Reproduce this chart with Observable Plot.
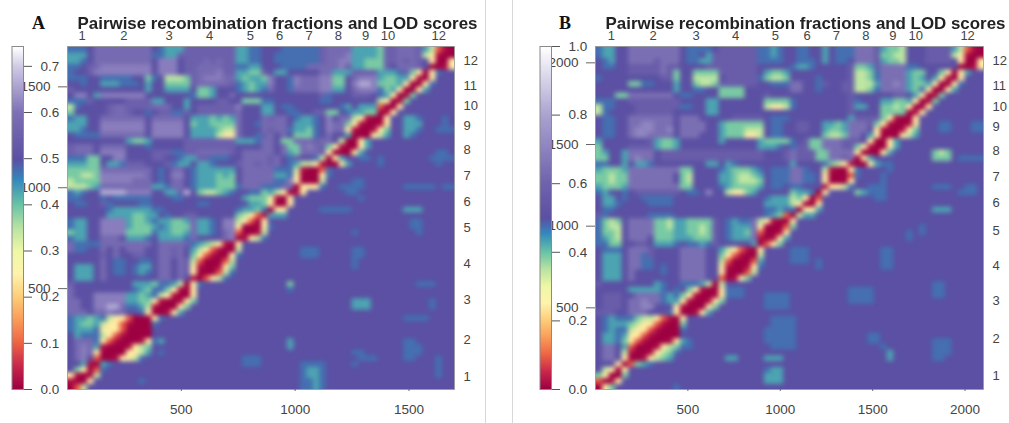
<!DOCTYPE html>
<html><head><meta charset="utf-8">
<script src="https://cdn.jsdelivr.net/npm/d3@7"></script>
<script src="https://cdn.jsdelivr.net/npm/@observablehq/plot@0.6"></script>
<style>
html,body{margin:0;padding:0;background:#fff;width:1009px;height:423px;overflow:hidden;font-family:"Liberation Sans",Arial,sans-serif}
.panel{position:absolute;top:0;height:423px}
.panel svg{position:absolute;left:0;top:0;overflow:visible;max-width:none}
.title{position:absolute;top:14px;left:0;width:555px;text-align:center;font:bold 16.9px "Liberation Sans",Arial,sans-serif;color:#222;white-space:nowrap;z-index:3;filter:blur(.3px)}
.letter{position:absolute;top:13px;font:bold 18px "Liberation Serif","Times New Roman",serif;color:#111;z-index:3}
.rule{position:absolute;top:0;width:1px;height:423px;background:#d8d8d8}
</style></head><body>
<div class="rule" style="left:485px"></div>
<div class="rule" style="left:512px"></div>
<div id="a" class="panel" style="left:0;width:505px"></div>
<div id="b" class="panel" style="left:528px;width:481px"></div>
<script>
const chromNames = ["1","2","3","4","5","6","7","8","9","10","11","12"];
const chromMidA = [64,248,446,624,803,932,1061,1190,1309,1408,1507,1631];
const chromMidB = [86,312,545,759,974,1145,1304,1463,1610,1733,1861,2014];
const topSkip = "11";
const maxMarkerA = 1700, maxMarkerB = 2100;
const xTicksA = [500,1000,1500], xTicksB = [500,1000,1500,2000];
const barTicksA = [0,.1,.2,.3,.4,.5,.6,.7], barTicksB = [0,.2,.4,.6,.8,1];
const barTopA = 0.743, barTopB = 1.0;
const titleText = "Pairwise recombination fractions and LOD scores";

// colour ramp: value stops and colours of the reference's colour bar
const stopsA = [0,.05,.1,.15,.2,.25,.3,.35,.4,.455,.5,.6,.7,.743];
const stopsB = [0,.05,.1,.15,.2,.25,.3,.35,.4,.455,.5,.6,.8,1];
const rampA = ["#9e0142","#c9274b","#ee6445","#fa9c58","#fdcd78","#fff3ad","#eff8a6","#b9e3a2","#69c4a5","#3388bd","#5b50a3","#7d70b6","#cfc9e4","#ffffff"];
const rampB = ["#9e0142","#c9274b","#ee6445","#fa9c58","#fdcd78","#fff3ad","#eff8a6","#b9e3a2","#69c4a5","#3388bd","#5b50a3","#6f62ad","#aaa2d0","#ffffff"];
// value of each letter code used in the matrices
const codes = "0123456789abc";
const codeValuesA = [0,.02,.09,.24,.345,.39,.43,.475,.5,.55,.58,.615,.665];
const codeValuesB = [0,.02,.09,.24,.345,.39,.43,.475,.5,.57,.64,.71,.79];

// rows from top to bottom; on a 60 x 60 grid
const matrixA = [
"7778aaaaaa aaa8766699 9999996677 8887777779 aaaa666659 9aaa964210",
"6668aaaaaa aaa7766999 9999996677 8877777779 aaab666659 9aaa943100",
"6678aaaaaa aaa8bbb899 9a9a996677 8877777779 aabb665559 9a9a983003",
"7789abbbbb bbb8bbb899 aaaa997766 8887777aaa aab9665559 8aaa980013",
"7889bbbbbb bbb8bbb899 aaab996655 986688888a a666999966 6795303788",
"7778877777 8857844459 abbbaa6566 5b887baaab b558abbb65 5663103888",
"8878866677 7868855559 aaaaa97656 6b887baaab b558bccb55 5630037888",
"9888888888 8868866668 5568887656 7a887aaaab b668abbb75 6300368888",
"8bb86bbbbb bb88888887 55688a8888 8888888889 7888999876 3015888888",
"7779888889 9996688868 8889988555 7788888887 7888888843 0158888888",
"4788889aa9 999aaa8868 999999b888 6687788888 8876866620 0388888888",
"5888889aa9 8878997798 999999a888 6688778899 5587665501 3888888888",
"76688aaaaa aa8aaaaa86 665656a888 a9aa876678 b8aa431003 8866788878",
"66688bbbbb bb8bbbbb85 665555a887 aaaa866678 baa5310013 8866688878",
"66788bbbbb bb8bbbbb86 666544a888 a9aa766578 baa3100135 8866788777",
"87777aaaaa aa8bbbbb86 666433a887 9a8a855578 a886000346 8867888888",
"8888888886 5568888899 9999996667 aa855aaa9a a840036888 8888888888",
"9aaa8aaaa8 8878888899 9999998888 aa8a55aba9 5310036888 8888888888",
"9aaa8bbbb8 8889997799 aaaaa98aaa aa8a65aaa9 3000368888 8888888778",
"7775588bb8 8889988766 9977788aaa a9a8798874 0368877878 8888887777",
"6665586679 9988897668 6678889aa9 a9a8764431 0036888878 8888888788",
"55555aaaaa aaa878aa87 6666668aaa aa77741002 7888888888 8888888888",
"55445bbbbb bba878bb87 6665658aaa aa66730003 7888888888 8888888888",
"45555bbbbb aaa878aa87 6665558aaa aa77b30004 8888778888 8888888888",
"44456aaaaa aaa667aa87 6665557aaa 777aa03337 8877778888 8877777877",
"76788ccccb bbb88669c8 5445678877 5643013888 8887788888 8888888888",
"7788878777 7778887788 8888888655 5310388888 8888878888 8888888888",
"8778897888 8778888888 7788888866 5300388888 8888888888 8888888888",
"8888887666 6667788888 8888887665 7033888887 7777888888 8866688888",
"8888886666 5566878899 8888885432 1666888888 8888888888 8888888888",
"76688bbbb6 556766556a 6678bb4320 3888888888 8888888888 8887788888",
"76688bbbb6 555676555a 6678bb3000 3788888888 8888888888 8887788888",
"56688bbbb5 555766556a 6678ab2001 4888888888 8888788888 8888788888",
"76688aaa86 667866667a 8888ab0134 7888888888 8888888888 8888888888",
"a7777aaaaa aaa8aaaa97 6543103888 8888888888 8888888888 8888888888",
"a7788a8a8a aa88aa9a86 4321004888 8888887778 8888778888 8888888888",
"8888898a88 9988aa9a85 3210037888 8888887778 8888778888 8888888888",
"88888a8778 8778aa8a94 2000248888 8888888888 8888788888 8888888888",
"86668a8778 7668aa8a93 1001358888 8888888888 8888788888 8888888888",
"86668a8778 7678aa8a93 0002478888 8888888888 8888888888 8888888888",
"86668a8888 8888aa8a81 0234788888 8888888888 8888888888 8888888888",
"9888888888 6665776403 7888888888 8888588888 8888888888 8888777888",
"a888888888 7657753103 8888888888 8888788888 8888888888 8888888888",
"a888bbbbb6 6567431003 8888888888 8888888888 8888888888 8888888888",
"aa88bbbbb6 6553100135 8888888888 8888888888 8888666888 8888887888",
"aa88bbcca7 7641000358 8888888888 8888888888 8888666888 8888887888",
"aaa8aabaa8 8730013688 8888888888 8888888888 8888888888 8888888888",
"7665674332 0003788888 8888888888 8888888888 8888888888 8877778888",
"7655643321 0007888888 8888888888 8888888888 8888888888 8888888888",
"7666733320 0008888888 8888888888 8888888888 8888888888 8888888888",
"8677743210 0008888888 8888888888 8888888888 8888888888 8888888888",
"8aaa732100 0137688888 8888888888 8888688888 8888888888 8877888888",
"8aba610001 3458888888 8888888888 8888688888 8888888888 8877788888",
"8aba300003 3468788888 8888888888 8888888888 8888778888 8877788888",
"8ab8200133 4788888888 8888888777 8888888888 8888877788 8877888788",
"8861067888 8888888888 8888888777 8888887777 8888788888 8888888788",
"8530278888 8888888888 8888888888 8888887667 8888888888 8888888788",
"3101488888 8888888888 8888888888 8888887667 8888888888 8888888788",
"1003888888 8788888888 8888888888 8888887767 8888888888 8888888888",
"0248888888 8888888888 8888888888 8888887767 8888888888 8888888888"
];
const matrixB = [
"76688aaaaa aaa8777789 9999977678 8778868777 aaa9655488 8999964210",
"76688aaaaa aaa8778699 9999977678 8778868777 aaa9554488 8999943100",
"87688aaaa9 aaa8776699 9999977778 8777868778 aaa9655488 8999983003",
"8778899999 a998888999 9999988888 7667888889 5569aaaa77 8888880013",
"8888899999 a958855559 9999986556 8888888889 4457aaaa65 5885303688",
"7888888888 9958844448 9999975445 8888788889 4457aaaa65 6863103888",
"8888855778 8868854459 9999988777 aa88798899 4446aaba65 5630037888",
"8888888888 8868877885 5558888888 aa88788899 4457aaaa65 7300368888",
"88855aaaaa aa87788885 5558889888 8888888889 8888889986 3015888888",
"7778899999 9998888668 8888885555 7888888889 7888665563 0158888888",
"4778889999 9997788668 8888884334 7888888889 6688554530 0388888888",
"4788889999 9988888668 8888888888 8888888889 8888555501 3888888888",
"87788aaaaa aa8aaa8888 8999998777 8888888886 9999531003 8888888888",
"87788aabba aa8aaaa886 5555558778 899886656a aa95310013 8887788877",
"87788abbba ab8aaaa886 5554448778 899886556a aa83100135 8887788877",
"87788abbaa aa8aaa8886 5553348778 888885445a a863000346 8888888888",
"6888888896 5568888886 8888865555 78955aaa99 9830036888 8888888888",
"5888899996 5568888888 8888866678 79955aaa99 5310036888 8888888888",
"56886aaaa8 9999999999 9999998889 a99955aaaa 3000368888 8854588888",
"55886abaa8 9999999999 9999998889 a99955aa9a 0368888888 8855587777",
"7788686678 8888888668 6788888888 6888875431 0036778888 8888888888",
"65556aaaaa aaa5588887 6555678777 aa78841003 7888878888 8888888888",
"55455aaaaa aa85488886 6544568777 aa77830002 7888788888 8888888888",
"55455aaaaa aa85488886 6544458777 aa77830003 8888788888 8888888888",
"65556aaaaa aaa5588887 6555568778 7788813347 8877788888 8877788778",
"7688789999 9998778b88 4335688888 5667038888 5677788888 8888887778",
"8668788777 7788888888 8888887666 4530288888 8887788888 8888888888",
"8667888877 7788888888 8888886666 4300388888 8888888888 8888888888",
"8778888888 8888888888 8888887767 7033688888 8888888888 8866688888",
"9788888877 7788888888 8888887652 0466888888 8888888888 8888888888",
"75458aaaa5 5466555598 7677a43100 3888888888 8888888888 8888888888",
"75448aaaa5 5466554598 7666a30002 5888888888 8888888888 7888888888",
"75548aaaa5 5566554598 7665a20013 8888888888 8888888878 7888888888",
"76548aaa85 5566655598 7666a10136 8888888888 8888888878 8888888888",
"7755889986 6678776798 8888602358 8888888888 8888888888 8888888888",
"87778aaa98 888aaaa886 4321038888 7778888888 8888778888 8888888888",
"86668aa798 888aaaa885 3210048888 7778888888 8888778888 8888888888",
"86668aa778 888aaaa884 2000268888 7778788888 8888778888 8888888888",
"86668aa778 788aaaa883 1001378888 8888788888 8888778888 8888888888",
"86668a8888 788aaaa883 0002488888 8888888888 8888888888 8888888888",
"86668a8888 888aaaa882 0135888888 8888888888 8888888888 8888888888",
"9888888886 7887776404 8888888888 8888888888 8888888888 8877888888",
"8888866666 7878531003 7778888888 8888888887 7778888888 8877888888",
"899988aaaa 7675310013 7778887777 8888888887 7778888888 8877888888",
"89998aabaa 7663100135 8888887777 8888888887 7778888888 8888888888",
"89998aabb8 8831000358 8888887777 8888888888 8888888888 8888888888",
"99988aaa88 8730013688 8888888888 8888888888 8888888888 8888888888",
"8767775443 2103888888 8888888777 7888888888 8888888888 8888888888",
"8766654332 1005888888 8888888777 7888888888 8888888888 8888888888",
"8767743321 0007888888 8888887777 7888888888 8888888888 8888888888",
"8667633210 0008888888 8888887777 7888888888 8877888888 8888888888",
"8667532100 0136788888 8888887777 7888888888 8877888888 8877788888",
"8aa8620001 3457788888 8888888777 7888888888 8888788888 8877788888",
"8aa8410013 4578888888 8888888888 8888888888 8888868888 8877788888",
"8aa8300134 5688888888 6688886668 8888888888 8888868888 8877888888",
"8883025678 8888888888 8888888888 8888888888 8888888888 8888888888",
"8430388888 8888888888 8888887668 8888888888 8888888888 8888888888",
"5300588888 8888888888 8888886668 8888888888 8888888888 8888888888",
"2013888888 8888888888 8888886668 8888888888 8888888888 8888888888",
"0358888888 8878888888 8888888888 8888888888 8888888888 8888888888"
];

function panel(id, matrix, codeValues, stops, ramp, maxMarker, xTicks, mids, barTicks, barTop, pw, mr, letter, letterLeft) {
  const el = document.getElementById(id);
  const cells = matrix.flatMap(r => Array.from(r.replace(/ /g,"").padEnd(60,"8").slice(0,60), ch => codeValues[codes.indexOf(ch)]));
  const color = {type:"linear", domain:stops, range:ramp, clamp:true};
  const rasterOpts = {width:60,height:60,x1:0,x2:maxMarker,y1:maxMarker,y2:0,fill:d=>d};
  const heat = Plot.plot({
    width:pw, height:423, marginLeft:67, marginRight:mr, marginTop:46, marginBottom:34,
    style:{color:"#444", fontFamily:'"Liberation Sans",Arial,sans-serif', background:"transparent"},
    x:{domain:[0,maxMarker]}, y:{domain:[0,maxMarker]}, color,
    marks:[
      Plot.raster(cells,rasterOpts),
      Plot.raster(cells,{...rasterOpts,clip:"frame"}),
      Plot.frame({stroke:"#9a9a9a",strokeWidth:.8}),
      Plot.axisX(xTicks,{anchor:"bottom",tickSize:2,tickPadding:13,fontSize:13.5,label:null,stroke:"#666",tickFormat:d3.format("d")}),
      Plot.axisY(xTicks,{anchor:"left",tickSize:9,tickPadding:8,fontSize:13.5,label:null,stroke:"#666",tickFormat:d3.format("d")}),
      Plot.axisX(mids.filter((m,i)=>chromNames[i]!==topSkip),{anchor:"top",tickSize:0,tickPadding:7,fontSize:13,label:null,tickFormat:d=>chromNames[mids.indexOf(d)]}),
      Plot.axisY(mids,{anchor:"right",tickSize:0,tickPadding:9,fontSize:13,label:null,textAnchor:"start",tickFormat:d=>chromNames[mids.indexOf(d)]})
    ]
  });
  const images = heat.querySelectorAll("image");
  images[images.length-1].style.filter = "blur(1.6px)";
  el.appendChild(heat);
  const ramp01 = d3.range(0,200).map(i=>barTop*(199-i)/199);
  const bar = Plot.plot({
    width:62, height:423, marginLeft:11.5, marginRight:39, marginTop:46, marginBottom:34,
    style:{color:"#444", fontFamily:'"Liberation Sans",Arial,sans-serif', background:"transparent"},
    x:{domain:[0,1],axis:null}, y:{domain:[0,barTop]}, color,
    marks:[
      Plot.raster(ramp01,{width:1,height:200,x1:0,x2:1,y1:barTop,y2:0,fill:d=>d}),
      Plot.frame({stroke:"#8a8a8a",strokeWidth:1}),
      Plot.axisY(barTicks,{anchor:"right",tickSize:8,tickPadding:9,fontSize:13.5,label:null,tickFormat:d3.format(".1f"),stroke:"#555"})
    ]
  });
  el.appendChild(bar);
  const t = document.createElement("div"); t.className="title"; t.textContent=titleText; el.appendChild(t);
  const l = document.createElement("div"); l.className="letter"; l.textContent=letter; l.style.left=letterLeft+"px"; el.appendChild(l);
}
panel("a",matrixA,codeValuesA,stopsA,rampA,maxMarkerA,xTicksA,chromMidA,barTicksA,barTopA,505,51,"A",32);
panel("b",matrixB,codeValuesB,stopsB,rampB,maxMarkerB,xTicksB,chromMidB,barTicksB,barTopB,481,26,"B",31);
</script>
</body></html>
